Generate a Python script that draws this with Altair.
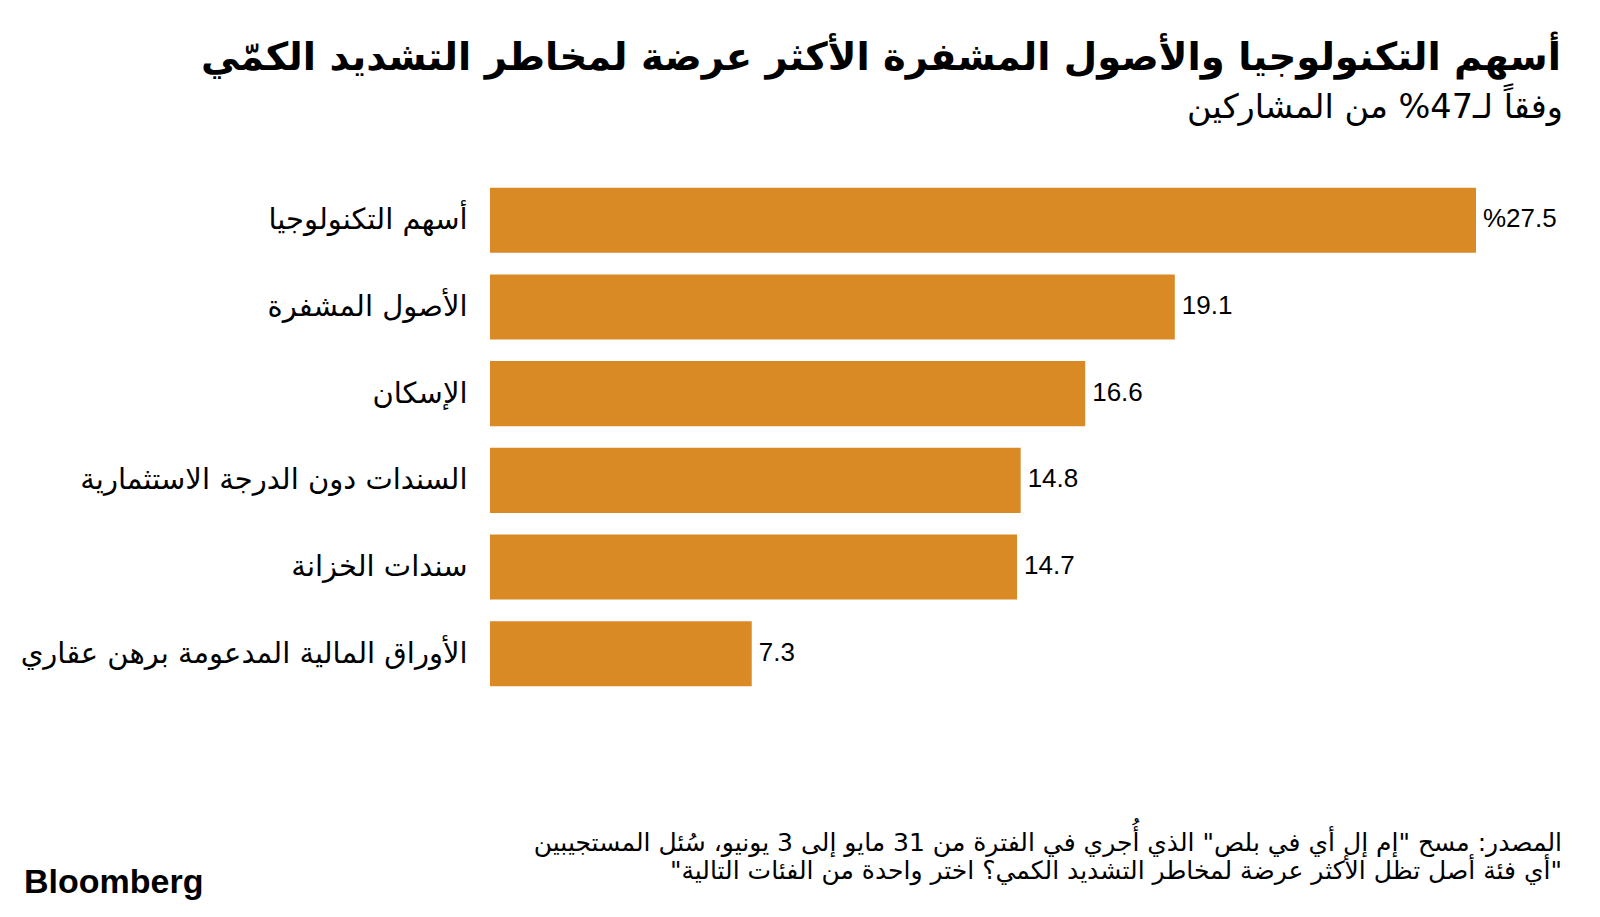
import altair as alt
import pandas as pd

categories = [
    "أسهم التكنولوجيا",
    "الأصول المشفرة",
    "الإسكان",
    "السندات دون الدرجة الاستثمارية",
    "سندات الخزانة",
    "الأوراق المالية المدعومة برهن عقاري",
]
values = [27.5, 19.1, 16.6, 14.8, 14.7, 7.3]
value_labels = ["%27.5", "19.1", "16.6", "14.8", "14.7", "7.3"]

title_text = "أسهم التكنولوجيا والأصول المشفرة الأكثر عرضة لمخاطر التشديد الكمّي"
subtitle_text = "وفقاً لـ47% من المشاركين"
footer_lines = [
    "المصدر: مسح \"إم إل أي في بلص\" الذي أُجري في الفترة من 31 مايو إلى 3 يونيو، سُئل المستجيبين",
    "\"أي فئة أصل تظل الأكثر عرضة لمخاطر التشديد الكمي؟ اختر واحدة من الفئات التالية\"",
]
brand = "Bloomberg"

BAR = "#DA8A25"
AR_FONT = "DejaVu Sans"
NUM_FONT = "Liberation Sans"

W = 986
H = 542

df = pd.DataFrame({"cat": categories, "val": values, "lab": value_labels})

x = alt.X("val:Q", scale=alt.Scale(domain=[0, 27.5], nice=False, zero=True), axis=None)
y = alt.Y(
    "cat:N",
    sort=categories,
    scale=alt.Scale(paddingInner=0.25, paddingOuter=0.25),
    axis=alt.Axis(
        title=None, domain=False, ticks=False, labelPadding=23,
        labelFontSize=29, labelFont=AR_FONT, labelColor="#000000",
        labelLimit=700, labelAlign="right", labelBaseline="middle",
    ),
)

bars = alt.Chart(df).mark_bar(color=BAR).encode(x=x, y=y)
labels = alt.Chart(df).mark_text(
    align="left", baseline="middle", dx=7, dy=-1, fontSize=26, font=NUM_FONT, color="#000000"
).encode(x=x, y=y, text="lab:N")

def txt(s, xv, yv, size, weight="normal", align="right", font=AR_FONT):
    return alt.Chart(pd.DataFrame({"t": [s]})).mark_text(
        align=align, baseline="middle", fontSize=size, fontWeight=weight, font=font, color="#000000"
    ).encode(x=alt.value(xv), y=alt.value(yv), text="t:N")

title = txt(title_text, 1071, -108, 38.6, "bold")
subtitle = txt(subtitle_text, 1073, -58, 33.5)
foot1 = txt(footer_lines[0], 1072, 677, 25)
foot2 = txt(footer_lines[1], 1072, 705, 25)
logo = txt(brand, -466, 717, 34, "bold", align="left", font="Liberation Sans")

chart = alt.layer(bars, labels, title, subtitle, foot1, foot2, logo).properties(
    width=W, height=H,
    background="#ffffff",
    autosize=alt.AutoSizeParams(type="none"),
    padding={"left": 482, "top": 158, "right": 116, "bottom": 201},
).configure_view(strokeWidth=0, stroke="transparent")

chart.save("out.html", embed_options={"renderer": "svg", "actions": False})
